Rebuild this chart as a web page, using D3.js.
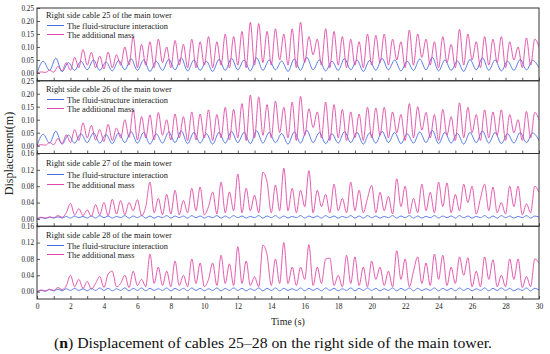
<!DOCTYPE html>
<html><head><meta charset="utf-8">
<script src="https://cdn.jsdelivr.net/npm/d3@7"></script>
<style>body{margin:0;background:#fff}</style></head>
<body><svg id="c" width="550" height="354"></svg>
<script>
// ---- data ----
const cables = [25, 26, 27, 28];
const seriesNames = ["The fluid-structure interaction", "The additional mass"];
const xTickLabels = [0, 2, 4, 6, 8, 10, 12, 14, 16, 18, 20, 22, 24, 26, 28, 30];
const yTicksUpper = [0, 0.05, 0.10, 0.15, 0.20, 0.25];
const yTicksLower = [0, 0.04, 0.08, 0.12, 0.16];
const pinkStep = 0.25;      // s between samples, additional mass
const blueStepUpper = 0.375; // s between samples, FSI cables 25/26
const blueStepLower = 0.25;  // s between samples, FSI cables 27/28

const mass25 = [0,0.004,0.002,0.01,0.003,0.025,0.008,0.04,0.01,0.06,0.02,0.09,0.03,0.08,0.02,0.065,0.015,0.08,0.02,0.07,0.03,0.1,0.03,0.14,0.02,0.11,0.03,0.12,0.02,0.13,0.04,0.1,0.02,0.125,0.03,0.11,0.02,0.13,0.02,0.12,0.03,0.14,0.02,0.12,0.03,0.15,0.02,0.14,0.03,0.16,0.02,0.195,0.03,0.19,0.04,0.16,0.03,0.17,0.05,0.15,0.03,0.17,0.02,0.195,0.04,0.14,0.07,0.13,0.03,0.17,0.02,0.16,0.03,0.14,0.02,0.13,0.03,0.12,0.02,0.15,0.03,0.145,0.04,0.15,0.03,0.13,0.05,0.12,0.02,0.165,0.03,0.15,0.06,0.13,0.03,0.12,0.02,0.14,0.04,0.11,0.02,0.168,0.03,0.15,0.05,0.12,0.02,0.14,0.03,0.13,0.04,0.14,0.02,0.12,0.05,0.1,0.02,0.135,0.03,0.13,0.1];
const fsi25 = [0,0.045,0.01,0.057,0.005,0.04,0.01,0.045,0.012,0.05,0.01,0.042,0.008,0.048,0.012,0.055,0.01,0.05,0.006,0.045,0.01,0.052,0.012,0.058,0.008,0.05,0.01,0.045,0.006,0.052,0.01,0.056,0.012,0.05,0.008,0.058,0.01,0.05,0.012,0.046,0.006,0.054,0.01,0.06,0.012,0.05,0.008,0.045,0.01,0.055,0.012,0.05,0.006,0.048,0.01,0.056,0.012,0.05,0.008,0.045,0.01,0.054,0.012,0.06,0.008,0.05,0.01,0.046,0.006,0.052,0.012,0.058,0.01,0.05,0.008,0.045,0.01,0.052,0.012,0.048,0.02];
const mass26 = [0,0.004,0.002,0.012,0.004,0.028,0.008,0.042,0.012,0.062,0.02,0.088,0.03,0.078,0.022,0.062,0.016,0.082,0.02,0.068,0.03,0.1,0.032,0.138,0.022,0.112,0.03,0.118,0.022,0.128,0.04,0.1,0.022,0.122,0.03,0.112,0.02,0.13,0.022,0.122,0.03,0.138,0.02,0.12,0.03,0.148,0.022,0.14,0.03,0.162,0.02,0.195,0.03,0.188,0.04,0.158,0.03,0.172,0.05,0.148,0.03,0.168,0.02,0.19,0.04,0.142,0.07,0.13,0.03,0.168,0.02,0.158,0.03,0.14,0.02,0.13,0.03,0.122,0.02,0.148,0.03,0.145,0.04,0.148,0.03,0.13,0.05,0.12,0.02,0.162,0.03,0.15,0.06,0.128,0.03,0.12,0.02,0.14,0.04,0.112,0.02,0.165,0.03,0.148,0.05,0.12,0.02,0.138,0.03,0.13,0.04,0.138,0.02,0.12,0.05,0.1,0.02,0.132,0.03,0.128,0.1];
const fsi26 = [0,0.044,0.01,0.056,0.006,0.041,0.01,0.046,0.012,0.05,0.01,0.043,0.008,0.049,0.012,0.054,0.01,0.051,0.006,0.046,0.01,0.053,0.012,0.057,0.008,0.051,0.01,0.046,0.006,0.051,0.01,0.055,0.012,0.051,0.008,0.057,0.01,0.051,0.012,0.047,0.006,0.053,0.01,0.059,0.012,0.051,0.008,0.046,0.01,0.054,0.012,0.051,0.006,0.049,0.01,0.055,0.012,0.051,0.008,0.046,0.01,0.053,0.012,0.059,0.008,0.051,0.01,0.047,0.006,0.051,0.012,0.057,0.01,0.051,0.008,0.046,0.01,0.051,0.012,0.049,0.02];
const mass27 = [0,0.004,0.002,0.005,0.003,0.008,0.004,0.015,0.038,0.01,0.025,0.008,0.022,0.006,0.035,0.01,0.04,0.008,0.048,0.012,0.045,0.01,0.04,0.02,0.047,0.008,0.03,0.09,0.015,0.05,0.01,0.06,0.012,0.07,0.01,0.045,0.015,0.075,0.02,0.078,0.01,0.03,0.066,0.012,0.09,0.015,0.066,0.02,0.11,0.015,0.075,0.02,0.058,0.015,0.114,0.09,0.015,0.083,0.02,0.124,0.02,0.075,0.015,0.07,0.03,0.118,0.015,0.07,0.03,0.06,0.015,0.085,0.02,0.05,0.015,0.09,0.02,0.07,0.015,0.05,0.082,0.015,0.065,0.02,0.055,0.012,0.098,0.03,0.08,0.012,0.05,0.015,0.085,0.02,0.065,0.015,0.09,0.03,0.088,0.015,0.06,0.02,0.085,0.04,0.08,0.012,0.05,0.085,0.02,0.078,0.015,0.04,0.012,0.08,0.03,0.08,0.01,0.037,0.015,0.08,0.065];
const fsi27 = [0,0.003,0.001,0.004,0.002,0.005,0.002,0.006,0.002,0.007,0.003,0.006,0.002,0.007,0.002,0.008,0.003,0.007,0.002,0.006,0.003,0.008,0.002,0.007,0.003,0.008,0.002,0.007,0.002,0.006,0.003,0.008,0.002,0.007,0.003,0.007,0.002,0.008,0.003,0.007,0.002,0.006,0.003,0.008,0.002,0.007,0.002,0.008,0.003,0.007,0.002,0.006,0.003,0.008,0.002,0.007,0.003,0.008,0.002,0.007,0.002,0.006,0.003,0.008,0.002,0.007,0.003,0.007,0.002,0.008,0.003,0.007,0.002,0.006,0.003,0.008,0.002,0.007,0.002,0.008,0.003,0.007,0.002,0.006,0.003,0.008,0.002,0.007,0.003,0.008,0.002,0.007,0.002,0.006,0.003,0.008,0.002,0.007,0.003,0.007,0.002,0.008,0.003,0.007,0.002,0.006,0.003,0.008,0.002,0.007,0.002,0.008,0.003,0.007,0.002,0.006,0.003,0.008,0.002,0.007,0.004];
const mass28 = [0,0.004,0.002,0.006,0.003,0.01,0.005,0.014,0.04,0.012,0.03,0.008,0.025,0.006,0.02,0.037,0.01,0.043,0.05,0.012,0.02,0.04,0.01,0.05,0.015,0.03,0.012,0.092,0.02,0.06,0.015,0.05,0.012,0.075,0.015,0.04,0.012,0.08,0.02,0.07,0.012,0.03,0.07,0.015,0.089,0.02,0.068,0.015,0.11,0.02,0.075,0.015,0.036,0.012,0.114,0.09,0.015,0.08,0.02,0.12,0.02,0.06,0.015,0.06,0.03,0.115,0.015,0.06,0.02,0.08,0.082,0.015,0.04,0.012,0.089,0.02,0.085,0.015,0.06,0.012,0.075,0.03,0.06,0.015,0.05,0.012,0.1,0.03,0.08,0.012,0.05,0.085,0.02,0.07,0.015,0.092,0.03,0.089,0.015,0.06,0.02,0.085,0.04,0.083,0.012,0.05,0.012,0.085,0.03,0.078,0.012,0.04,0.012,0.08,0.03,0.08,0.01,0.037,0.012,0.08,0.07];
const fsi28 = [0,0.003,0.001,0.005,0.002,0.006,0.002,0.007,0.003,0.008,0.003,0.007,0.002,0.008,0.003,0.009,0.003,0.008,0.002,0.007,0.003,0.009,0.002,0.008,0.003,0.009,0.002,0.008,0.003,0.007,0.003,0.009,0.002,0.008,0.003,0.008,0.002,0.009,0.003,0.008,0.002,0.007,0.003,0.009,0.002,0.008,0.003,0.009,0.003,0.008,0.002,0.007,0.003,0.009,0.002,0.008,0.003,0.009,0.002,0.008,0.003,0.007,0.003,0.009,0.002,0.008,0.003,0.008,0.002,0.009,0.003,0.008,0.002,0.007,0.003,0.009,0.002,0.008,0.003,0.009,0.003,0.008,0.002,0.007,0.003,0.009,0.002,0.008,0.003,0.009,0.002,0.008,0.003,0.007,0.003,0.009,0.002,0.008,0.003,0.008,0.002,0.009,0.003,0.008,0.002,0.007,0.003,0.009,0.002,0.008,0.003,0.009,0.003,0.008,0.002,0.007,0.003,0.009,0.002,0.008,0.004];

const fsiByPanel = [fsi25, fsi26, fsi27, fsi28];
const massByPanel = [mass25, mass26, mass27, mass28];
const fsiSteps = [blueStepUpper, blueStepUpper, blueStepLower, blueStepLower];
const yDomains = [[-0.03, 0.25], [-0.03, 0.25], [-0.018, 0.16], [-0.018, 0.16]];
const yTickSets = [yTicksUpper, yTicksUpper, yTicksLower, yTicksLower];

// ---- layout ----
const svg = d3.select("#c");
const L = 37, R = 539, T = 8, B = 299;
const ph = (B - T) / 4;
const blue = "#4b6fe0", pink = "#de4aa6";
const serif = "'Liberation Serif','Times New Roman',serif";
const x = d3.scaleLinear().domain([0, 30]).range([L, R]);
const legOff = [[7, 17, 26], [8, 18.5, 27.5], [9.5, 20, 30], [9, 19, 28]];

svg.append("defs").selectAll("clipPath").data(d3.range(4)).join("clipPath")
  .attr("id", i => "clip" + i)
  .append("rect").attr("x", L).attr("width", R - L)
  .attr("y", i => T + i * ph).attr("height", ph);

for (let p = 0; p < 4; p++) {
  const top = T + p * ph, bot = top + ph;
  const y = d3.scaleLinear().domain(yDomains[p]).range([bot, top]);
  const g = svg.append("g");

  const lineF = d3.line().x((d, i) => x(i * fsiSteps[p])).y(d => y(d)).curve(d3.curveMonotoneX);
  const lineM = d3.line().x((d, i) => x(i * pinkStep)).y(d => y(d)).curve(d3.curveMonotoneX);
  const cg = g.append("g").attr("clip-path", `url(#clip${p})`);
  cg.append("path").attr("d", lineF(fsiByPanel[p])).attr("fill", "none").attr("stroke", blue).attr("stroke-width", 0.9);
  cg.append("path").attr("d", lineM(massByPanel[p])).attr("fill", "none").attr("stroke", pink).attr("stroke-width", 0.9);

  // y axis (inward ticks)
  const ya = d3.axisLeft(y).tickValues(yTickSets[p]).tickSize(-3).tickPadding(3)
    .tickFormat(d3.format(".2f"));
  const yg = g.append("g").attr("transform", `translate(${L},0)`).call(ya);
  yg.select(".domain").remove();
  yg.selectAll("text").attr("font-family", serif).attr("font-size", 7.2).attr("fill", "#222");
  yg.selectAll("line").attr("stroke", "#333").attr("stroke-width", 0.8);

  // x axis ticks at bottom of every panel
  const xa = d3.axisBottom(x).ticks(30).tickSize(-3)
    .tickFormat(p === 3 ? (d => xTickLabels.includes(d) ? d : "") : "");
  const xg = g.append("g").attr("transform", `translate(0,${bot})`).call(xa);
  xg.select(".domain").remove();
  xg.selectAll("line").attr("stroke", "#333").attr("stroke-width", 0.8);
  xg.selectAll("text").attr("font-family", serif).attr("font-size", 7.5).attr("fill", "#222").attr("dy", "0.9em");

  // frame
  g.append("rect").attr("x", L).attr("y", top).attr("width", R - L).attr("height", ph)
    .attr("fill", "none").attr("stroke", "#333").attr("stroke-width", 1);

  // legend
  const lo = legOff[p];
  g.append("text").attr("x", 46).attr("y", top + lo[0] + 3).attr("font-family", serif).attr("font-size", 8.4)
    .attr("fill", "#222").text(`Right side cable ${cables[p]} of the main tower`);
  [blue, pink].forEach((c, k) => {
    const yy = Math.round(top + lo[k + 1]) + 0.5;
    g.append("line").attr("x1", 47).attr("x2", 64).attr("y1", yy).attr("y2", yy).attr("stroke", c).attr("stroke-width", 1);
    g.append("text").attr("x", 67).attr("y", yy + 3).attr("font-family", serif).attr("font-size", 8.4)
      .attr("fill", "#222").text(seriesNames[k]);
  });
}

// axis titles
svg.append("text").attr("x", (L + R) / 2).attr("y", 325).attr("text-anchor", "middle")
  .attr("font-family", serif).attr("font-size", 10).attr("fill", "#222").text("Time (s)");
svg.append("text").attr("transform", `translate(13,${(T + B) / 2}) rotate(-90)`).attr("text-anchor", "middle")
  .attr("font-family", serif).attr("font-size", 12).attr("fill", "#222").text("Displacement(m)");

// caption
const cap = svg.append("text").attr("x", 273).attr("y", 348).attr("text-anchor", "middle")
  .attr("font-family", serif).attr("font-size", 15).attr("fill", "#111")
  .attr("textLength", 438).attr("lengthAdjust", "spacingAndGlyphs");
cap.append("tspan").text("(");
cap.append("tspan").attr("font-weight", "bold").text("n");
cap.append("tspan").text(") Displacement of cables 25–28 on the right side of the main tower.");
</script></body></html>
